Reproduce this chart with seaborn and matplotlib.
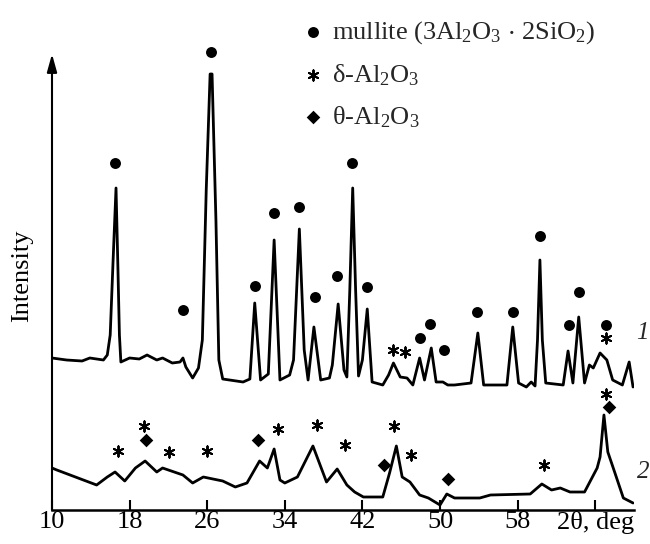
import matplotlib
matplotlib.use("Agg")
import matplotlib.pyplot as plt
import seaborn as sns

# trace 1 (upper): 2theta, deg / intensity, arb. units
x1 = [10.0, 11.5, 13.1, 13.9, 15.3, 15.7, 16.0, 16.3, 16.6, 16.8, 16.95, 17.1,
      18.0, 19.0, 19.8, 20.8, 21.4, 22.4, 23.2, 23.5, 23.8, 24.5, 25.1, 25.5,
      25.9, 26.3, 26.5, 26.9, 27.2, 27.6, 29.7, 30.4, 30.9, 31.5, 32.3, 32.9,
      33.5, 34.5, 34.9, 35.5, 36.0, 36.4, 37.0, 37.7, 38.6, 38.9, 39.5, 40.1,
      40.4, 40.7, 41.0, 41.3, 41.6, 42.0, 42.5, 43.0, 44.1, 44.7, 45.2, 45.9,
      46.6, 47.2, 47.9, 48.4, 49.1, 49.6, 50.3, 50.8, 51.5, 53.2, 53.9, 54.5,
      56.9, 57.5, 58.1, 58.9, 59.4, 59.8, 60.05, 60.3, 60.55, 60.9, 62.7, 63.2,
      63.7, 64.3, 64.9, 65.4, 65.8, 66.5, 67.2, 67.8, 68.8, 69.5, 69.9]
y1 = [152, 150, 149, 152, 150, 155, 175, 250, 322, 240, 175, 148,
      152, 151, 155, 150, 152, 147, 148, 152, 143, 132, 142, 170,
      320, 436, 436, 290, 150, 131, 128, 131, 207, 130, 136, 270,
      130, 135, 150, 281, 160, 130, 183, 130, 132, 145, 206, 140,
      133, 220, 322, 220, 134, 150, 201, 128, 125, 135, 147, 133,
      132, 125, 152, 130, 162, 128, 128, 125, 125, 127, 177, 125,
      125, 183, 127, 123, 128, 124, 170, 250, 170, 127, 125, 159,
      127, 193, 127, 145, 142, 157, 150, 130, 125, 148, 123]

# trace 2 (lower)
x2 = [10.0, 10.5, 14.6, 15.7, 16.5, 17.5, 18.6, 19.6, 20.8, 21.4, 23.5, 24.5,
      25.6, 27.6, 28.9, 30.1, 31.4, 32.2, 32.9, 33.5, 34.0, 35.3, 36.9, 38.3,
      39.4, 40.4, 41.2, 42.1, 44.1, 44.8, 45.5, 46.1, 46.9, 47.9, 48.8, 50.0,
      50.7, 51.5, 54.1, 55.2, 59.3, 60.5, 61.5, 62.4, 63.4, 64.9, 66.2, 66.5,
      66.9, 67.3, 68.0, 68.9, 69.9]
y2 = [42, 40, 25, 33, 38, 29, 42, 49, 38, 42, 35, 27,
      33, 29, 23, 27, 49, 42, 61, 30, 27, 33, 64, 28,
      41, 25, 18, 13, 13, 37, 64, 33, 28, 15, 12, 5,
      16, 12, 12, 15, 16, 26, 20, 22, 18, 18, 42, 53,
      95, 58, 38, 12, 7]

# phase marks
mullite_x = [16.5, 23.5, 26.4, 30.9, 32.9, 35.5, 37.1, 39.4, 40.9, 42.5,
             47.9, 49.0, 50.4, 53.8, 57.5, 60.3, 63.3, 64.3, 67.1]
mullite_y = [347, 200, 458, 224, 297, 303, 213, 234, 347, 223,
             172, 186, 160, 198, 198, 274, 185, 218, 185]
delta_x = [45.2, 46.4, 67.1, 16.8, 19.5, 22.1, 26.0, 33.3, 37.3, 40.2,
           45.3, 47.0, 60.7, 67.1]
delta_y = [160, 158, 172, 59, 84, 58, 59, 81, 85, 65,
           84, 55, 45, 116]
theta_x = [19.7, 31.2, 44.2, 50.8, 67.4]
theta_y = [70, 70, 45, 31, 103]

tick_pos = [10, 18, 26, 34, 42, 50, 58, 66]
tick_lab = ['10', '18', '26', '34', '42', '50', '58', '2θ, deg']

sns.set_theme(style='white')
plt.rcParams['font.family'] = ['Liberation Serif', 'DejaVu Serif']
plt.rcParams['mathtext.fontset'] = 'custom'
plt.rcParams['mathtext.rm'] = 'Liberation Serif'
plt.rcParams['mathtext.default'] = 'regular'

fig = plt.figure(figsize=(6.5, 5.44), dpi=100)
ax = fig.add_axes([0.08, 0.0625, 0.8954, 0.9375])

sns.lineplot(x=x1, y=y1, ax=ax, color='black', lw=2, sort=False, estimator=None)
sns.lineplot(x=x2, y=y2, ax=ax, color='black', lw=2, sort=False, estimator=None)

sns.scatterplot(x=mullite_x, y=mullite_y, ax=ax, marker='o', s=62, color='black',
                linewidth=0, label=r'mullite (3Al$_2$O$_3$ $\cdot$ 2SiO$_2$)')
sns.scatterplot(x=delta_x, y=delta_y, ax=ax, marker=(6, 2, 0), s=55, color='black',
                linewidth=1.4, label=r'δ-Al$_2$O$_3$')
sns.scatterplot(x=theta_x, y=theta_y, ax=ax, marker='D', s=48, color='black',
                linewidth=0, label=r'θ-Al$_2$O$_3$')

ax.set_xlim(10, 70)
ax.set_ylim(0, 510)
ax.set_xticks(tick_pos)
ax.set_xticklabels(tick_lab)
ax.set_yticks([])
ax.tick_params(axis='x', bottom=True, direction='in', length=7, width=1.5,
               pad=1, labelsize=19, colors='black')
for side in ['left', 'top', 'right']:
    ax.spines[side].set_visible(False)
ax.spines['bottom'].set_linewidth(1.8)
ax.spines['bottom'].set_color('black')

# intensity axis drawn as an arrow
ax.annotate('', xy=(10, 456), xytext=(10, 0),
            arrowprops=dict(arrowstyle='-|>,head_length=0.9,head_width=0.25',
                            lw=1.5, color='black', shrinkA=0, shrinkB=0),
            annotation_clip=False)

ax.set_ylabel('Intensity', fontsize=19, color='black')
ax.yaxis.set_label_coords(-0.033, 0.459)

ax.text(70.9, 177, '1', fontsize=18, style='italic', ha='center', va='center')
ax.text(70.9, 38, '2', fontsize=18, style='italic', ha='center', va='center')

ax.legend(loc='upper left', bbox_to_anchor=(0.417, 0.978), frameon=False,
          fontsize=19, handlelength=0.8, handletextpad=0.3, labelspacing=0.62,
          borderpad=0.3, borderaxespad=0)

fig.savefig('out.png', dpi=100)
